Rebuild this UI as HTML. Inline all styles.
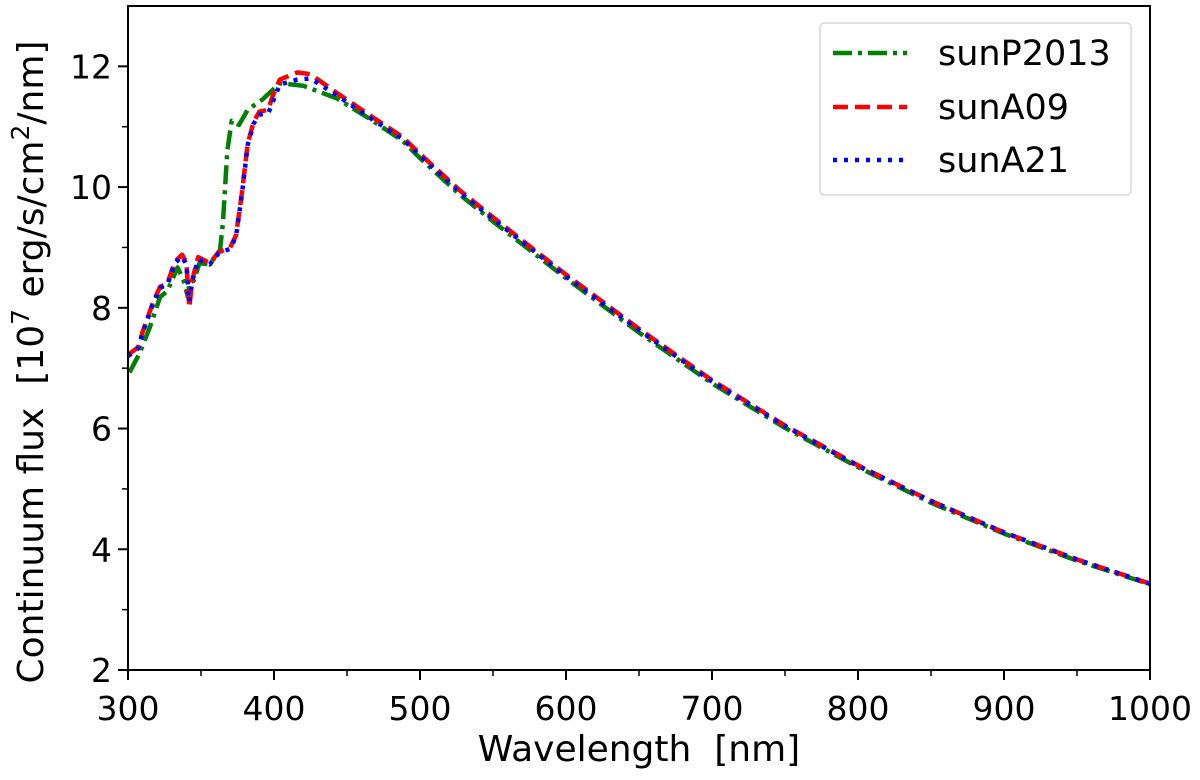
<!DOCTYPE html>
<html><head><meta charset="utf-8"><style>
html,body{margin:0;padding:0;background:#fff;}
svg{display:block;font-family:"DejaVu Sans","Liberation Sans",sans-serif;}
.pre{white-space:pre;}
</style></head><body>
<svg id="chart" width="1200" height="780" viewBox="0 0 1200 780" xmlns="http://www.w3.org/2000/svg">
<g id="plot"></g>
<g id="axes"></g>
<g id="legend"></g>
</svg>
<script>
const xTicks=[300,400,500,600,700,800,900,1000];
const xMinor=[350,450,550,650,750,850,950];
const yTicks=[2,4,6,8,10,12];
const yMinor=[3,5,7,9,11];
const wlA09=[300,307,310,317,322,327,332,337,340,342,344,348,356,362,370,374,378,382,386,390,396,399,404,416,425,443,465,488,500,527,550,575,600,650,700,750,800,850,900,950,1000];
const fluxA09=[7.22,7.35,7.6,8.08,8.35,8.4,8.76,8.88,8.75,8.0,8.46,8.84,8.74,8.92,9.0,9.2,9.9,10.72,11.08,11.25,11.28,11.5,11.78,11.9,11.87,11.56,11.2,10.83,10.55,9.95,9.5,9.02,8.55,7.65,6.8,6.05,5.39,4.8,4.28,3.83,3.43];
const wlA21=[300,307,310,317,322,327,332,337,340,342,344,348,356,362,370,374,378,382,386,390,396,399,404,416,425,443,465,488,500,527,550,575,600,650,700,750,800,850,900,950,1000];
const fluxA21=[7.2,7.33,7.58,8.06,8.33,8.38,8.74,8.85,8.72,8.1,8.44,8.8,8.72,8.9,8.98,9.18,9.88,10.7,11.05,11.2,11.22,11.4,11.7,11.78,11.8,11.52,11.16,10.8,10.52,9.92,9.47,9.0,8.52,7.63,6.78,6.04,5.38,4.8,4.28,3.83,3.43];
const wlP2013=[301,308,315,322,327,334,338,341,342,345,349,356,363,365,368,371,376,382,392,404,420,443,465,488,500,527,550,575,600,650,700,750,800,850,900,950,1000];
const fluxP2013=[6.93,7.25,7.68,8.18,8.28,8.67,8.46,8.18,8.42,8.45,8.74,8.72,8.96,9.4,10.6,11.1,11.03,11.28,11.45,11.72,11.68,11.47,11.14,10.77,10.48,9.88,9.43,8.96,8.49,7.59,6.75,6.01,5.36,4.77,4.26,3.81,3.42];
const seriesNames=["sunP2013","sunA09","sunA21"];

const X0=128,X1=1150,Y0=670,Y1=6;
const xs=v=>X0+(v-300)/700*(X1-X0);
const ys=v=>Y0-(v-2)/11*(Y0-Y1);
const NS="http://www.w3.org/2000/svg";
function mk(tag,attrs,parent){const e=document.createElementNS(NS,tag);for(const k in attrs)e.setAttribute(k,attrs[k]);parent.appendChild(e);return e;}
const plot=document.getElementById('plot'),axes=document.getElementById('axes'),legend=document.getElementById('legend');

function drawLine(xsArr,ysArr,color,dash,name){
  const d=xsArr.map((x,i)=>(i?'L':'M')+xs(x).toFixed(1)+','+ys(ysArr[i]).toFixed(1)).join(' ');
  const p=mk('path',{d:d,fill:'none',stroke:color,'stroke-width':4.5,'stroke-dasharray':dash,'stroke-linejoin':'round'},plot);
  
  
}
drawLine(wlP2013,fluxP2013,'#008000','19,6,4,6','line-sunP2013');
drawLine(wlA09,fluxA09,'#ff0000','15,7','line-sunA09');
drawLine(wlA21,fluxA21,'#0000ff','4,7','line-sunA21');

const fr=mk('rect',{x:X0,y:Y1,width:X1-X0,height:Y0-Y1,fill:'none',stroke:'#000','stroke-width':2},axes);


xTicks.forEach(v=>{
  mk('line',{x1:xs(v),x2:xs(v),y1:Y0,y2:Y0+10,stroke:'#000','stroke-width':2},axes);
  const t=mk('text',{x:xs(v),y:720,'text-anchor':'middle','font-size':33},axes);
  t.textContent=v;
  
  
});
xMinor.forEach(v=>mk('line',{x1:xs(v),x2:xs(v),y1:Y0,y2:Y0+6,stroke:'#000','stroke-width':1.5},axes));
yTicks.forEach(v=>{
  mk('line',{x1:X0-10,x2:X0,y1:ys(v),y2:ys(v),stroke:'#000','stroke-width':2},axes);
  const t=mk('text',{x:112,y:ys(v)+12,'text-anchor':'end','font-size':33},axes);
  t.textContent=v;
  
  
});
yMinor.forEach(v=>mk('line',{x1:X0-6,x2:X0,y1:ys(v),y2:ys(v),stroke:'#000','stroke-width':1.5},axes));

const xl=mk('text',{x:639,y:761,'text-anchor':'middle','font-size':36,'class':'pre'},axes);
xl.textContent='Wavelength  [nm]';


const yl=mk('text',{x:0,y:0,'text-anchor':'middle','font-size':36,'class':'pre',transform:'translate(43,362) rotate(-90)'},axes);


yl.innerHTML='Continuum flux  [10<tspan dy="-14" font-size="25">7</tspan><tspan dy="14"> erg/s/cm</tspan><tspan dy="-14" font-size="25">2</tspan><tspan dy="14">/nm]</tspan>';

const lb=mk('rect',{x:820,y:23,width:311,height:172,rx:4,fill:'#fff',stroke:'#d9d9d9','stroke-width':1.5},legend);


const lc=['#008000','#ff0000','#0000ff'],ld=['19,6,4,6','15,7','4,7'],ly=[53,107,160];
seriesNames.forEach((n,i)=>{
  const g=mk('g',{},legend);
  
  
  mk('line',{x1:833,x2:907,y1:ly[i],y2:ly[i],stroke:lc[i],'stroke-width':4.5,'stroke-dasharray':ld[i]},g);
  const t=mk('text',{x:938,y:ly[i]+12,'font-size':35},g);
  t.textContent=n;
});
</script>
</body></html>
